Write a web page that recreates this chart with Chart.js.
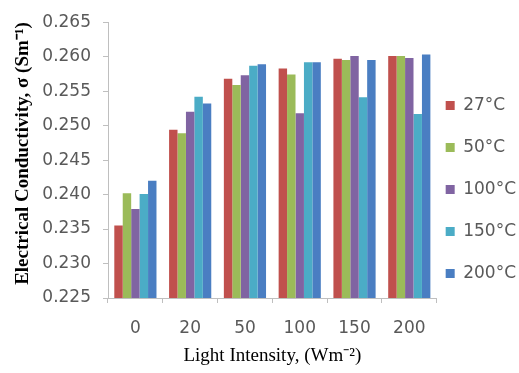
<!DOCTYPE html>
<html>
<head>
<meta charset="utf-8">
<script src="https://cdn.jsdelivr.net/npm/chart.js@4"></script>
<style>
  html, body { margin: 0; padding: 0; background: #fff; }
  #wrap { width: 519px; height: 373px; }
</style>
</head>
<body>
<div id="wrap"><canvas id="myChart"></canvas></div>
<script>
// light intensity categories (W m^-2)
const intensities = ['0', '20', '50', '100', '150', '200'];
const temps = ['27°C', '50°C', '100°C', '150°C', '200°C'];

// conductivity values
const t27 = [0.2355, 0.2494, 0.2568, 0.2583, 0.2597, 0.2601];
const t50 = [0.2402, 0.2489, 0.2559, 0.2574, 0.2595, 0.2601];
const t100 = [0.2379, 0.2520, 0.2573, 0.2518, 0.2601, 0.2598];
const t150 = [0.2401, 0.2542, 0.2587, 0.2592, 0.2541, 0.2517];
const t200 = [0.2420, 0.2532, 0.2589, 0.2592, 0.2595, 0.2603];

const yTicks = [0.225, 0.230, 0.235, 0.240, 0.245, 0.250, 0.255, 0.260, 0.265];

const colors = ['#C0504D', '#9BBB59', '#8064A2', '#4BACC6', '#4A7EC2'];
const series = [t27, t50, t100, t150, t200];

const tickFont = { family: 'DejaVu Sans', size: 17 };
const tickColor = '#595959';
const axisColor = '#BFBFBF';

// nudge the legend so its swatches sit where the original has them
const legendNudge = {
  id: 'legendNudge',
  afterLayout(chart) {
    const lg = chart.legend;
    lg.left -= 16;
    lg.right -= 16;
    lg.top -= 7;
    lg.bottom -= 7;
  }
};

const ctx = document.getElementById('myChart').getContext('2d');
const myChart = new Chart(ctx, {
  type: 'bar',
  data: {
    labels: intensities,
    datasets: series.map((data, i) => ({
      label: temps[i],
      data: data,
      backgroundColor: colors[i],
      borderWidth: 0,
      barPercentage: 1,
      categoryPercentage: 0.77,
    })),
  },
  options: {
    responsive: true,
    maintainAspectRatio: false,
    animation: false,
    layout: { padding: { top: 20, left: 0, right: -23, bottom: 0 } },
    plugins: {
      tooltip: { enabled: false },
      legend: {
        position: 'right',
        labels: {
          boxWidth: 9,
          boxHeight: 9,
          padding: 25,
          color: tickColor,
          font: tickFont,
        },
      },
    },
    scales: {
      x: {
        grid: {
          display: true,
          offset: true,
          drawOnChartArea: false,
          tickLength: 5,
          color: axisColor,
        },
        border: { color: axisColor },
        ticks: { color: tickColor, font: tickFont, padding: 15 },
        title: {
          display: true,
          text: 'Light Intensity, (Wm⁻²)',
          color: '#000',
          font: { family: 'Liberation Serif', size: 19 },
          padding: { top: 0, bottom: 6 },
        },
        afterFit(scale) { scale.height = 75; },
      },
      y: {
        min: 0.225,
        max: 0.265,
        afterBuildTicks(scale) {
          scale.ticks = yTicks.map((v) => ({ value: v }));
        },
        grid: {
          drawOnChartArea: false,
          tickLength: 5,
          color: axisColor,
        },
        border: { color: axisColor },
        ticks: {
          color: tickColor,
          font: tickFont,
          padding: 12,
          callback: (v) => Number(v).toFixed(3),
        },
        title: {
          display: true,
          align: 'end',
          text: 'Electrical Conductivity, σ (Sm⁻¹)',
          color: '#000',
          font: { family: 'Liberation Serif', size: 19, weight: 'bold' },
          padding: { top: 12, bottom: 0 },
        },
        afterFit(scale) { scale.width = 108; },
      },
    },
  },
  plugins: [legendNudge],
});
</script>
</body>
</html>
